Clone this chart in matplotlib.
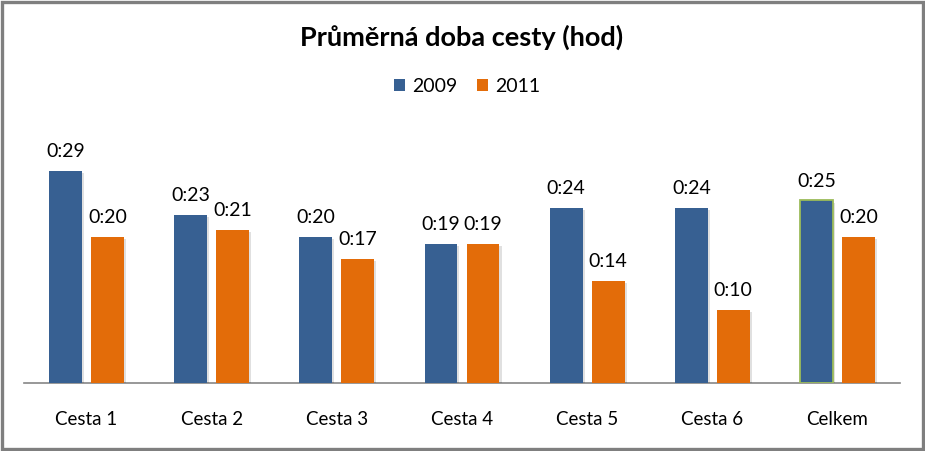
import matplotlib
matplotlib.use("Agg")
import matplotlib.pyplot as plt
import numpy as np
from matplotlib.patches import Patch, Rectangle
import matplotlib.patheffects as pe

plt.rcParams['font.family'] = ['Lato', 'DejaVu Sans']

categories = ["Cesta 1", "Cesta 2", "Cesta 3", "Cesta 4", "Cesta 5", "Cesta 6", "Celkem"]
series_names = ["2009", "2011"]
minutes_2009 = [29, 23, 20, 19, 24, 24, 25]
minutes_2011 = [20, 21, 17, 19, 14, 10, 20]

blue = "#376092"
orange = "#E36C09"

W, H = 925, 451
fig = plt.figure(figsize=(W / 100, H / 100), dpi=100)

# plot area in pixels: x 24..900, baseline at y=383, top at y=140
ax = fig.add_axes([24 / W, (H - 383) / H, 876 / W, 243 / H])

x = np.arange(len(categories))
bw = 0.262
off = 0.168
shadow = [pe.SimplePatchShadow(offset=(1.5, -1.5), shadow_rgbFace="#000000", alpha=0.12), pe.Normal()]

b1 = ax.bar(x - off, minutes_2009, bw, color=blue, zorder=3, path_effects=shadow)
b2 = ax.bar(x + off, minutes_2011, bw, color=orange, zorder=3, path_effects=shadow)

# highlighted total bar
b1[-1].set_edgecolor("#9BBB59")
b1[-1].set_linewidth(1.3)

def fmt(m):
    return f"{m // 60}:{m % 60:02d}"

for bars, vals in ((b1, minutes_2009), (b2, minutes_2011)):
    for r, v in zip(bars, vals):
        ax.annotate(fmt(v), (r.get_x() + r.get_width() / 2, v),
                    xytext=(0, 10), textcoords="offset points",
                    ha="center", va="baseline", fontsize=14, color="#000000")

ax.set_xlim(-0.5, len(categories) - 0.5)
ax.set_ylim(0, 243 / 7.3)
ax.set_xticks(x)
ax.set_xticklabels(categories, fontsize=13.5)
ax.tick_params(axis="x", length=0, pad=20)
ax.set_yticks([])
for s in ("top", "right", "left"):
    ax.spines[s].set_visible(False)
ax.spines["bottom"].set_color("#868686")
ax.spines["bottom"].set_linewidth(1.2)

fig.text(462 / W, 1 - 37 / H, "Průměrná doba cesty (hod)", ha="center", va="center",
         fontsize=19.5, fontweight="bold")

handles = [Patch(facecolor=blue, label=series_names[0]),
           Patch(facecolor=orange, label=series_names[1])]
fig.legend(handles=handles, loc="center", bbox_to_anchor=(467 / W, 1 - 86.5 / H),
           ncol=2, frameon=False, fontsize=14, handlelength=0.6, handleheight=0.6,
           handletextpad=0.35, columnspacing=1.0)

# outer chart border
fig.patches.append(Rectangle((1.5 / W, 2 / H), (W - 4) / W, (H - 3.5) / H,
                             transform=fig.transFigure, fill=False,
                             edgecolor="#7F7F7F", linewidth=2.4))

fig.savefig("out.png", dpi=100)
